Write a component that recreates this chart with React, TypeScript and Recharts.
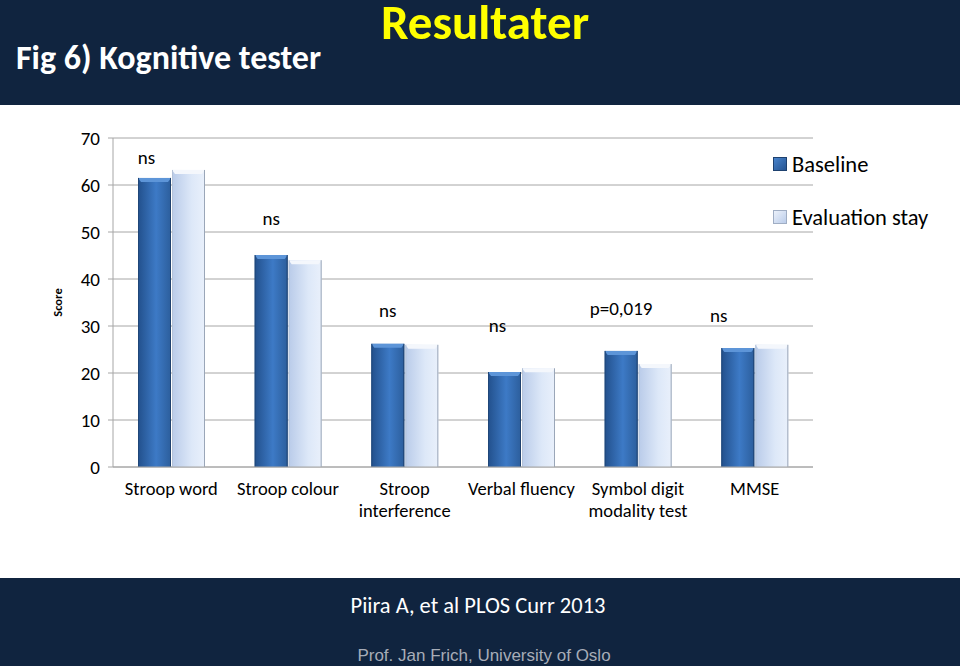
import React from 'react';
import { BarChart, Bar, XAxis, YAxis, CartesianGrid, LabelList } from 'recharts';

const categories = ['Stroop word', 'Stroop colour', 'Stroop\ninterference', 'Verbal fluency', 'Symbol digit\nmodality test', 'MMSE'];
const baselineScores = [61.5, 45.1, 26.2, 20.2, 24.7, 25.3];
const evaluationScores = [63.2, 44.0, 26.0, 21.0, 21.9, 26.0];
const significance = ['ns', 'ns', 'ns', 'ns', 'p=0,019', 'ns'];
const seriesNames = ['Baseline', 'Evaluation stay'];
const yTicks = [0, 10, 20, 30, 40, 50, 60, 70];

const NAVY = '#10243f';
const FONT = 'Carlito, Lato, "Open Sans", sans-serif';

// label nudges relative to the top-centre of each baseline bar
const annotDx = [-8, 0, 0, -7, 0, -19];
const annotDy = [-20, -37, -33, -47, -42, -33];

const data = categories.map((name, i) => ({
  name,
  baseline: baselineScores[i],
  evaluation: evaluationScores[i],
  sig: significance[i],
}));

function GlossyBar(props: any) {
  const { x, y, width, height, variant } = props;
  if (!height || height <= 0) return null;
  const light = variant === 'light';
  const bevel = 4;
  return (
    <g>
      <rect x={x} y={y} width={width} height={height} fill={light ? 'url(#gradLight)' : 'url(#gradDark)'} />
      <polygon
        points={`${x},${y} ${x + width},${y} ${x + width - 3},${y + bevel} ${x + 3},${y + bevel}`}
        fill={light ? '#f4f7fc' : '#5d95d8'}
      />
      <line x1={x + width - 0.5} y1={y} x2={x + width - 0.5} y2={y + height} stroke={light ? '#9aa6b8' : '#1e416f'} strokeWidth={1} />
      <line x1={x + 0.5} y1={y} x2={x + 0.5} y2={y + height} stroke={light ? '#b4c2d8' : '#1f4678'} strokeWidth={1} />
    </g>
  );
}

function CategoryTick({ x, y, payload }: any) {
  const lines = String(payload.value).split('\n');
  return (
    <text x={x} y={y + 20} textAnchor="middle" fontFamily={FONT} fontSize={18.5} fill="#000">
      {lines.map((line, i) => (
        <tspan key={i} x={x} dy={i === 0 ? 0 : 22}>
          {line}
        </tspan>
      ))}
    </text>
  );
}

function SigLabel(props: any) {
  const { x, y, width, index, value } = props;
  return (
    <text
      x={x + width / 2 + annotDx[index]}
      y={y + annotDy[index]}
      textAnchor="middle"
      dominantBaseline="central"
      fontFamily={FONT}
      fontSize={19}
      fill="#000"
    >
      {value}
    </text>
  );
}

function LegendBox() {
  const swatches = [
    { fill: 'url(#gradDarkLegend)', edge: '#1e416f' },
    { fill: 'url(#gradLightLegend)', edge: '#a0aec4' },
  ];
  return (
    <div style={{ position: 'absolute', left: 773, top: 152, fontFamily: FONT, fontSize: 22.5, color: '#000' }}>
      {seriesNames.map((label, i) => (
        <div key={label} style={{ display: 'flex', alignItems: 'center', height: 24, marginBottom: i === 0 ? 29 : 0 }}>
          <svg width={14} height={14} style={{ marginRight: 5 }}>
            <defs>
              <linearGradient id="gradDarkLegend" x1="0" y1="0" x2="1" y2="1">
                <stop offset="0%" stopColor="#4a86cf" />
                <stop offset="100%" stopColor="#24528f" />
              </linearGradient>
              <linearGradient id="gradLightLegend" x1="0" y1="0" x2="1" y2="1">
                <stop offset="0%" stopColor="#eef3fb" />
                <stop offset="100%" stopColor="#b9cbe9" />
              </linearGradient>
            </defs>
            <rect x={0.5} y={0.5} width={13} height={13} fill={swatches[i].fill} stroke={swatches[i].edge} />
          </svg>
          <span>{label}</span>
        </div>
      ))}
    </div>
  );
}

export default function App() {
  return (
    <div style={{ position: 'absolute', left: 0, top: 0, width: 960, height: 666, background: NAVY, overflow: 'hidden' }}>
      <div
        style={{
          position: 'absolute', left: 0, width: 970, top: 0, textAlign: 'center',
          fontFamily: FONT, fontWeight: 'bold', fontSize: 49, color: '#ffff00', lineHeight: '44px',
        }}
      >
        Resultater
      </div>
      <div
        style={{
          position: 'absolute', left: 16, top: 37, fontFamily: FONT, fontWeight: 'bold',
          fontSize: 34, color: '#ffffff', lineHeight: '42px',
        }}
      >
        Fig 6) Kognitive tester
      </div>

      <div style={{ position: 'absolute', left: 0, top: 105, width: 960, height: 473, background: '#ffffff' }}>
        <BarChart
          width={960}
          height={473}
          data={data}
          margin={{ top: 33, right: 147, left: 0, bottom: 0 }}
          barSize={33}
          barGap={1}
        >
          <defs>
            <linearGradient id="gradDark" x1="0" y1="0" x2="1" y2="0">
              <stop offset="0%" stopColor="#22508c" />
              <stop offset="55%" stopColor="#3d7ac6" />
              <stop offset="100%" stopColor="#2c5e9c" />
            </linearGradient>
            <linearGradient id="gradLight" x1="0" y1="0" x2="1" y2="0">
              <stop offset="0%" stopColor="#b9cbe9" />
              <stop offset="60%" stopColor="#dde8f8" />
              <stop offset="100%" stopColor="#e9f0fb" />
            </linearGradient>
          </defs>
          <CartesianGrid vertical={false} stroke="#a6a6a6" strokeWidth={1} />
          <XAxis
            dataKey="name"
            height={111}
            interval={0}
            tick={<CategoryTick />}
            tickLine={false}
            axisLine={{ stroke: '#a6a6a6' }}
          />
          <YAxis
            width={113}
            domain={[0, 70]}
            ticks={yTicks}
            interval={0}
            tickSize={5}
            tickMargin={8}
            tickLine={{ stroke: '#a6a6a6' }}
            axisLine={{ stroke: '#a6a6a6' }}
            tick={{ fontFamily: FONT, fontSize: 19, fill: '#000' }}
            label={{
              value: 'Score',
              angle: -90,
              position: 'insideLeft',
              offset: 58,
              style: { fontFamily: FONT, fontSize: 12.5, fontWeight: 'bold', fill: '#000', textAnchor: 'middle' },
            }}
          />
          <Bar dataKey="baseline" name={seriesNames[0]} shape={<GlossyBar variant="dark" />} isAnimationActive={false}>
            <LabelList dataKey="sig" content={<SigLabel />} />
          </Bar>
          <Bar dataKey="evaluation" name={seriesNames[1]} shape={<GlossyBar variant="light" />} isAnimationActive={false} />
        </BarChart>
      </div>
      <LegendBox />

      <div
        style={{
          position: 'absolute', left: 0, width: 956, top: 591, textAlign: 'center',
          fontFamily: FONT, fontSize: 22.5, color: '#ffffff', lineHeight: '30px',
        }}
      >
        Piira A, et al PLOS Curr 2013
      </div>
      <div
        style={{
          position: 'absolute', left: 0, width: 968, top: 645, textAlign: 'center',
          fontFamily: '"Liberation Sans", Arial, sans-serif', fontSize: 17, color: '#a7adb8', lineHeight: '22px',
        }}
      >
        Prof. Jan Frich, University of Oslo
      </div>
    </div>
  );
}
